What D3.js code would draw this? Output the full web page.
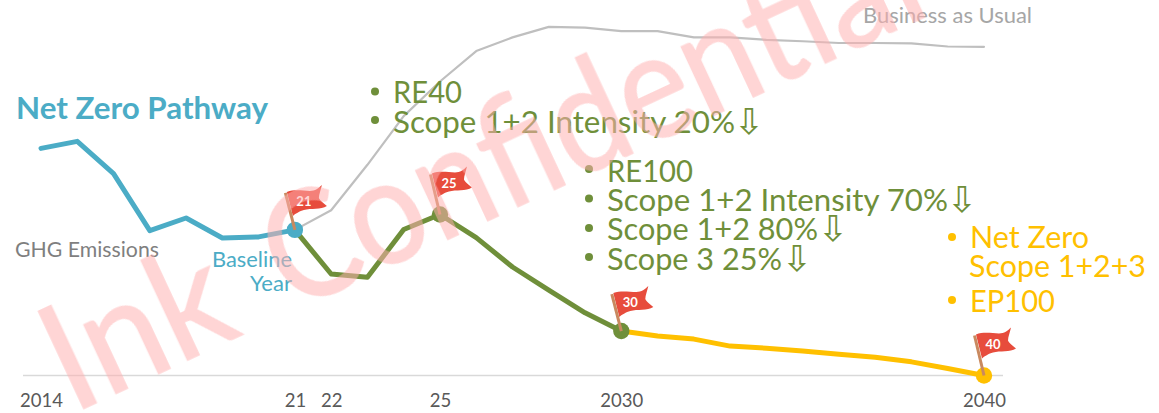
<!DOCTYPE html>
<html><head><meta charset="utf-8">
<script src="https://cdn.jsdelivr.net/npm/d3@7"></script>
<style>html,body{margin:0;padding:0;background:#fff;overflow:hidden}svg{display:block;font-family:Lato,"Open Sans",sans-serif}</style>
</head><body><svg id="c" width="1159" height="413"></svg>
<script>
// ---- data (emissions index) ----
const bauYears = [2021,2022,2023,2024,2025,2026,2027,2028,2029,2030,2031,2032,2033,2034,2035,2036,2037,2038,2039,2040];
const bauValues = [41.6,47.2,60.2,74.1,84.0,92.7,96.6,99.6,99.4,98.4,98.4,96.6,96.6,95.9,95.5,95.0,95.0,94.9,94.0,93.9];
const histYears = [2014,2015,2016,2017,2018,2019,2020,2021];
const histValues = [64.9,66.9,57.7,41.4,45.0,39.3,39.6,41.6];
const midYears = [2021,2022,2023,2024,2025,2026,2027,2028,2029,2030];
const midValues = [41.6,29.0,28.1,41.7,46.0,39.4,31.0,24.4,17.9,12.7];
const lateYears = [2030,2031,2032,2033,2034,2035,2036,2037,2038,2039,2040];
const lateValues = [12.7,11.3,10.4,8.4,7.8,7.0,6.1,5.2,3.9,2.0,0];
const flagYears = [2021,2025,2030,2040];
const flagValues = [41.6,46.0,12.7,0];
const flagLabels = ["21","25","30","40"];
const tickYears = [2014,2021,2022,2025,2030,2040];
const tickLabels = ["2014","21","22","25","2030","2040"];
const colors = {blue:"#4BACC6",green:"#6F8F3A",yellow:"#FFC000",gray:"#BFBFBF",flag:"#E74C3C",pole:"#C9895F"};

const svg = d3.select("#c");
const x = d3.scaleLinear().domain([2014,2040]).range([41,984]);
const y = d3.scaleLinear().domain([0,100]).range([375.5,25.5]);
const line = d3.line().x(d=>x(d[0])).y(d=>y(d[1]));
const pairs = (a,b)=>a.map((v,i)=>[v,b[i]]);

// axis
const axis = d3.axisBottom(x).tickValues(tickYears).tickSize(0).tickPadding(18)
  .tickFormat(d=>tickLabels[tickYears.indexOf(d)]);
const gx = svg.append("g").attr("transform","translate(0,375.5)").call(axis);
gx.select(".domain").remove();
gx.selectAll("text").attr("font-family","Lato").attr("font-size",18.5).attr("fill","#595959");
svg.insert("line","g").attr("x1",23).attr("x2",1003).attr("y1",375.5).attr("y2",375.5)
  .attr("stroke","#D9D9D9").attr("stroke-width",1.6);

// lines
function path(xs,vs,col,w){
  svg.append("path").datum(pairs(xs,vs)).attr("d",line).attr("fill","none")
    .attr("stroke",col).attr("stroke-width",w).attr("stroke-linejoin","round").attr("stroke-linecap","round");
}
path(bauYears,bauValues,colors.gray,2.2);
path(midYears,midValues,colors.green,5);
path(lateYears,lateValues,colors.yellow,5);
path(histYears,histValues,colors.blue,5);

// markers and flags
const markerColors = [colors.blue,colors.green,colors.green,colors.yellow];
const flagLift = [0,3,0,3];
const flagShape = "M-8,-38 C0,-41 8,-39 15,-39 C20,-39 24,-42 27,-45 C26,-40 24,-36 24,-32 C25,-29 29,-27 32,-24 C26,-20 16,-22 9,-20 C5,-19 0,-16 -2,-14 Z";
flagYears.forEach((yr,i)=>{
  const px=x(yr), py=y(flagValues[i]);
  svg.append("circle").attr("cx",px).attr("cy",py).attr("r",8.2).attr("fill",markerColors[i]);
  const g=svg.append("g").attr("transform",`translate(${px},${py-flagLift[i]})`);
  g.append("path").attr("d",flagShape).attr("fill",colors.flag);
  g.append("line").attr("x1",-9.5).attr("y1",-37).attr("x2",0).attr("y2",0+flagLift[i])
    .attr("stroke",colors.pole).attr("stroke-width",3);
  g.append("text").attr("x",9).attr("y",-24).attr("text-anchor","middle").attr("fill","#fff")
    .attr("font-weight",700).attr("font-size",13).text(flagLabels[i]);
});

// annotations
const annotationText = ["Net Zero Pathway","GHG Emissions","Baseline","Year","Business as Usual",
 "RE40","Scope 1+2 Intensity 20%","RE100","Scope 1+2 Intensity 70%","Scope 1+2 80%","Scope 3 25%",
 "Net Zero","Scope 1+2+3","EP100"];
const annotationLayout = [
 [16,119,252,30.5,colors.blue,700],[15,257,144,20.5,"#7F7F7F",400],[212,267,80,20.5,colors.blue,400],[250,291,42,20.5,colors.blue,400],[863,23,169,20.5,"#A6A6A6",400],
 [393,103,69,30,colors.green,400],[393,133,342,30,colors.green,400],[607,182,86,30,colors.green,400],[607,211,341,30,colors.green,400],[607,240,211,30,colors.green,400],[607,270,175,30,colors.green,400],
 [970,248,119,30,colors.yellow,400],[969,277,177,30,colors.yellow,400],[970,312,85,30,colors.yellow,400]];
annotationText.forEach((t,i)=>{
  const [ax,ay,w,fs,col,fw]=annotationLayout[i];
  svg.append("text").attr("x",ax).attr("y",ay).attr("textLength",w).attr("lengthAdjust","spacingAndGlyphs")
    .attr("font-size",fs).attr("font-weight",fw).attr("fill",col).text(t);
});
// bullets
[[375,91.5,colors.green],[375,120,colors.green],[589,169,colors.green],[589,198.5,colors.green],[589,228,colors.green],[589,257,colors.green],[952,237,colors.yellow],[952,300,colors.yellow]]
 .forEach(b=>svg.append("circle").attr("cx",b[0]).attr("cy",b[1]).attr("r",4).attr("fill",b[2]));
// down arrows
[[749,134,colors.green],[962,212,colors.green],[833,241,colors.green],[797,271,colors.green]]
 .forEach(a=>svg.append("text").attr("x",a[0]).attr("y",a[1]).attr("text-anchor","middle")
   .attr("font-family","DejaVu Sans").attr("font-size",36).attr("textLength",31).attr("lengthAdjust","spacingAndGlyphs").attr("fill",a[2]).text("\u21E9"));

// watermark on top
const wm = svg.append("g").attr("fill","#FFB0B0").attr("stroke","#FFB0B0").attr("stroke-width",1.5)
  .attr("opacity",0.53).attr("font-size",149);
wm.append("text").attr("transform","translate(72,414) rotate(-25) scale(0.95,1)").text("Ink");
wm.append("text").attr("transform","translate(292,312) rotate(-25) scale(0.89,1)").text("Confidential");
</script></body></html>
